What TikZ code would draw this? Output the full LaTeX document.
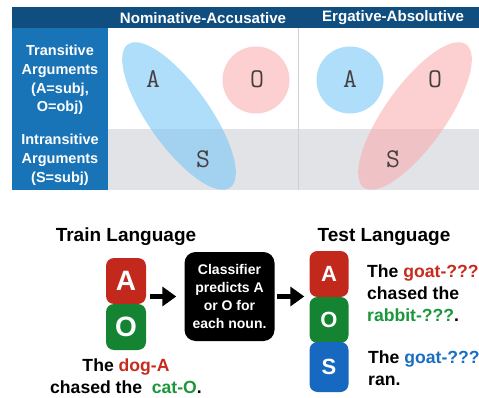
\documentclass[tikz,border=0pt]{standalone}
\usepackage{fontspec}
\setmainfont{Liberation Sans}
\usetikzlibrary{arrows.meta}

\definecolor{headblue}{RGB}{16,78,128}
\definecolor{colblue}{RGB}{24,116,182}
\definecolor{rowgray}{RGB}{226,227,231}
\definecolor{divgray}{RGB}{208,208,212}
\definecolor{ellblue}{RGB}{120,200,245}
\definecolor{ellpink}{RGB}{250,170,170}
\definecolor{letgray}{RGB}{70,62,62}
\definecolor{boxred}{RGB}{194,40,28}
\definecolor{boxgreen}{RGB}{20,132,50}
\definecolor{boxblue}{RGB}{22,104,192}
\definecolor{txtred}{RGB}{200,42,30}
\definecolor{txtgreen}{RGB}{28,150,58}
\definecolor{txtblue}{RGB}{24,110,196}

\begin{document}
\begin{tikzpicture}[x=1pt,y=-1pt,
  headtext/.style={text=white,inner sep=0pt,font=\fontsize{15.1}{17}\selectfont\bfseries},
  rowtext/.style={text=white,align=center,inner sep=0pt,font=\fontsize{14.5}{18.8}\selectfont\bfseries},
  arg/.style={text=letgray,inner sep=0pt,font=\ttfamily\mdseries\fontsize{27}{27}\selectfont},
  blueblob/.style={fill=ellblue,fill opacity=0.6},
  pinkblob/.style={fill=ellpink,fill opacity=0.55},
  rolebox/.style={rounded corners=8pt,minimum width=40pt,minimum height=46pt,
    inner sep=0pt,text=white},
  bigrole/.style={rolebox,font=\fontsize{28}{28}\selectfont\bfseries},
  smallrole/.style={rolebox,minimum width=39pt,font=\fontsize{22}{22}\selectfont\bfseries},
  title/.style={inner sep=0pt,font=\fontsize{19}{22}\selectfont\bfseries},
  sentence/.style={inner sep=0pt,font=\fontsize{17.6}{21.8}\selectfont\bfseries},
  clfbox/.style={fill=black,text=white,rounded corners=11pt,minimum width=90pt,
    minimum height=89pt,inner sep=0pt,align=center,font=\fontsize{14}{18}\selectfont\bfseries},
  bigarrow/.style={line width=5pt,-{Triangle[length=14pt,width=19pt]}}
]
\useasboundingbox (0,0) rectangle (479,398);

% --- table of argument alignments ---
\fill[headblue] (12,7) rectangle (479,28);
\fill[colblue] (12,28) rectangle (108,190);
\fill[rowgray] (108,129) rectangle (479,190);
\draw[divgray,line width=0.8pt] (298,28) -- (298,190);

\node[headtext] (hnom) at (203,18) {Nominative-Accusative};
\node[headtext] (herg) at (393,18) {Ergative-Absolutive};
\node[rowtext] (rtrans) at (60,80) {Transitive\\Arguments\\(A=subj,\\O=obj)};
\node[rowtext] (rintr) at (60,159.5) {Intransitive\\Arguments\\(S=subj)};

% nominative-accusative grouping: A with S, O alone
\fill[blueblob,rotate around={-54.5:(179,116)}] (179,116) ellipse [x radius=88, y radius=30.5];
\fill[pinkblob] (256,80) circle [radius=33.5];
% ergative-absolutive grouping: O with S, A alone
\fill[blueblob] (350,80) circle [radius=33.5];
\fill[pinkblob,rotate around={54.5:(415,116)}] (415,116) ellipse [x radius=88, y radius=30.5];

\node[arg] (nA) at (153,79) {A};
\node[arg] (nO) at (257,79) {O};
\node[arg] (nS) at (203,159) {S};
\node[arg] (eA) at (350,79) {A};
\node[arg] (eO) at (435,79) {O};
\node[arg] (eS) at (393,159) {S};

% --- train / test pipeline ---
\node[title] (train) at (126,237) {Train Language};
\node[title] (test) at (384,237) {Test Language};

\node[bigrole,fill=boxred] (trA) at (126,281) {A};
\node[bigrole,fill=boxgreen] (trO) at (126,327) {O};

\node[clfbox] (clf) at (229.5,296.5) {Classifier\\predicts A\\or O for\\each noun.};

\node[smallrole,fill=boxred] (teA) at (329,274) {A};
\node[smallrole,fill=boxgreen] (teO) at (329,320) {O};
\node[smallrole,fill=boxblue,minimum height=50pt] (teS) at (329,367) {S};

\draw[bigarrow] ([xshift=4pt]trA.east |- clf.west) -- ([xshift=-8pt]clf.west);
\draw[bigarrow] ([xshift=2pt]clf.east) -- ([xshift=-5pt]teA.west |- clf.east);

\node[sentence,align=center] (trsent) at (126,376.5)
  {The \textcolor{txtred}{dog-A}\\chased the\ \ \textcolor{txtgreen}{cat-O}.};
\node[sentence,align=left,anchor=west] (tesent1) at (367,293.5)
  {The \textcolor{txtred}{goat-???}\\chased the\\\textcolor{txtgreen}{rabbit-???}.};
\node[sentence,align=left,anchor=west] (tesent2) at (368,368.5)
  {The \textcolor{txtblue}{goat-???}\\ran.};
\end{tikzpicture}
\end{document}
